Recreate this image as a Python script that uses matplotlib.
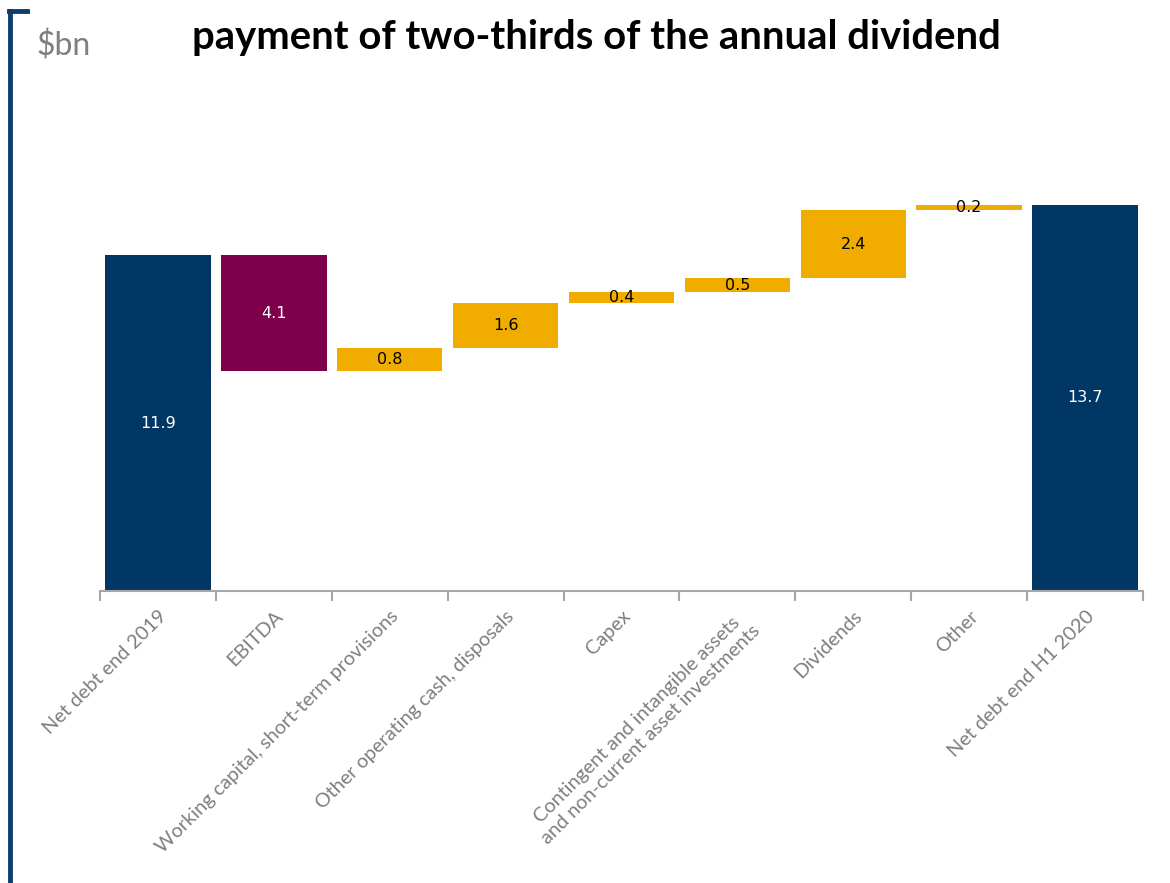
import matplotlib.pyplot as plt
import numpy as np

# waterfall data ($bn)
categories = ["Net debt end 2019", "EBITDA", "Working capital, short-term provisions",
              "Other operating cash, disposals", "Capex",
              "Contingent and intangible assets\nand non-current asset investments",
              "Dividends", "Other", "Net debt end H1 2020"]
changes = [11.9, -4.1, 0.8, 1.6, 0.4, 0.5, 2.4, 0.2, 13.7]
kinds = ["total", "down", "up", "up", "up", "up", "up", "up", "total"]

navy = "#003764"
purple = "#7f004a"
gold = "#f0ad00"
grey = "#7f7f7f"

plt.rcParams['font.family'] = ['Lato', 'DejaVu Sans']

fig = plt.figure(figsize=(11.7, 8.83), dpi=100)
ax = fig.add_axes([100 / 1170, 292 / 883, 1043 / 1170, 423 / 883])

x = np.arange(len(categories))
running = 0.0
for i, (v, k) in enumerate(zip(changes, kinds)):
    if k == "total":
        bottom, height, col, tc = 0, v, navy, "white"
        running = v
    elif k == "down":
        bottom, height, col, tc = running + v, -v, purple, "white"
        running += v
    else:
        bottom, height, col, tc = running, v, gold, "black"
        running += v
    ax.bar(x[i], height, bottom=bottom, width=0.91, color=col)
    ax.text(x[i], bottom + height / 2, f"{abs(v):.1f}", ha="center", va="center",
            color=tc, fontsize=11.5, family="DejaVu Sans")

ax.set_xlim(-0.5, len(categories) - 0.5)
ax.set_ylim(0, 15)
ax.set_yticks([])
for s in ["top", "right", "left"]:
    ax.spines[s].set_visible(False)
ax.spines["bottom"].set_color("#a6a6a6")
ax.spines["bottom"].set_linewidth(1.5)

# ticks at category boundaries
ax.set_xticks(np.arange(len(categories) + 1) - 0.5, minor=False)
ax.set_xticklabels([])
ax.tick_params(axis="x", length=7, width=1.5, color="#a6a6a6", direction="out")
ax.set_xticks(x, minor=True)
ax.set_xticklabels(categories, minor=True, rotation=45, ha="right",
                   rotation_mode="anchor", color=grey, fontsize=14.3,
                   multialignment="center")
ax.tick_params(axis="x", which="minor", length=0, pad=12)

fig.text(596 / 1170, 1 - 37 / 883, "payment of two-thirds of the annual dividend",
         ha="center", va="center", fontsize=28.8, fontweight="bold", color="black")
fig.text(36 / 1170, 1 - 46 / 883, "$bn", ha="left", va="center", fontsize=23, color=grey)

# left bracket
fig.add_artist(plt.Line2D([10 / 1170, 10 / 1170], [0, 1 - 11 / 883], color="#0f3d6b", lw=3.5,
                          transform=fig.transFigure))
fig.add_artist(plt.Line2D([8.5 / 1170, 27 / 1170], [1 - 11 / 883, 1 - 11 / 883], color="#0f3d6b",
                          lw=3.5, transform=fig.transFigure))

fig.savefig("out.png", dpi=100)
